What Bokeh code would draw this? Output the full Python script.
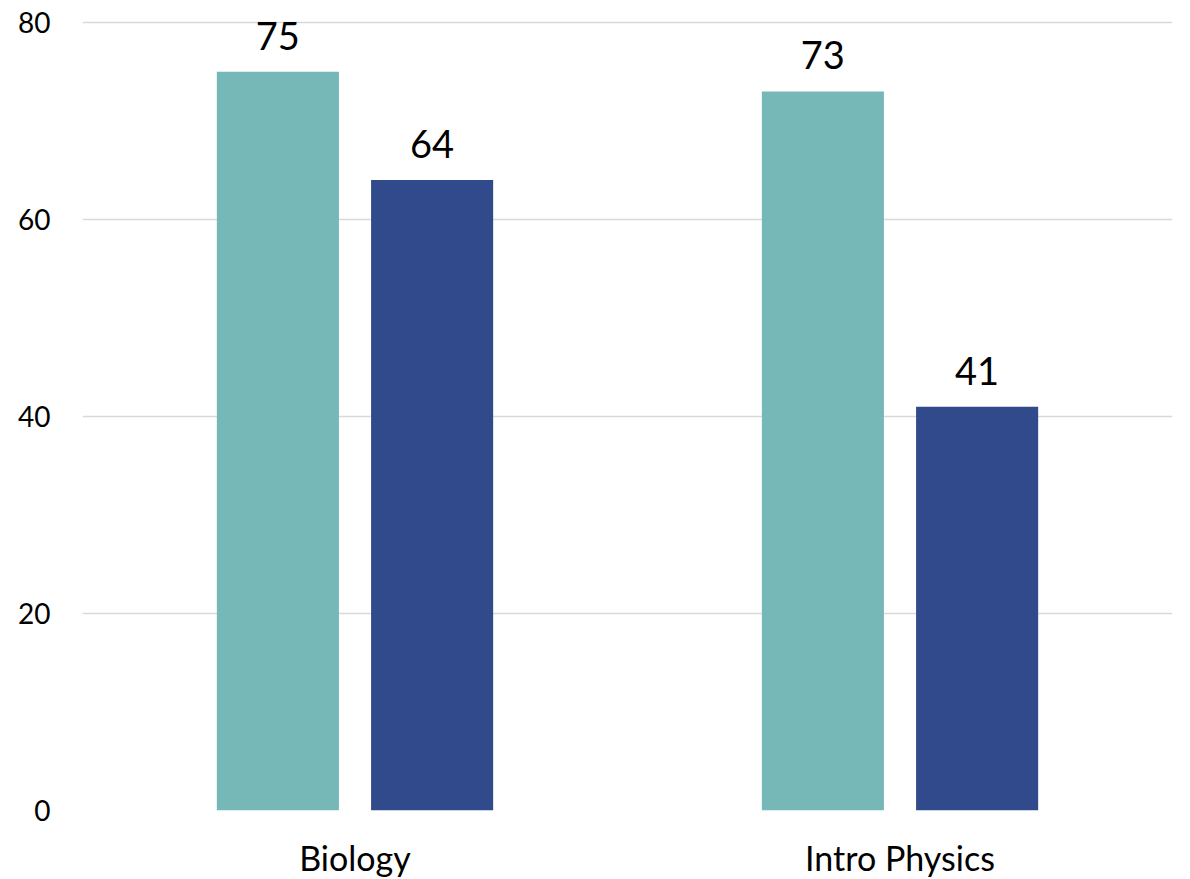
from bokeh.plotting import figure
from bokeh.models import ColumnDataSource, FactorRange, Range1d, LabelSet, FixedTicker
from bokeh.transform import dodge
from bokeh.core.properties import value
from bokeh.embed import file_html
from bokeh.resources import INLINE

categories = ["Biology", "Intro Physics"]
series_a = [75, 73]
series_b = [64, 41]
y_ticks = [0, 20, 40, 60, 80]

FONT = "Lato"
TEAL = "#76B8B7"
NAVY = "#314A8C"

src = ColumnDataSource(dict(
    cat=categories, a=series_a, b=series_b,
    a_txt=[str(v) for v in series_a], b_txt=[str(v) for v in series_b],
))

p = figure(
    frame_width=1090, frame_height=790,
    x_range=FactorRange(factors=categories, range_padding=0),
    y_range=Range1d(0, 80.2),
    output_backend="svg", toolbar_location=None,
    min_border_left=82, min_border_right=8, min_border_top=20, min_border_bottom=55,
)
p.outline_line_color = None
p.background_fill_color = "white"
p.border_fill_color = "white"

p.vbar(x=dodge("cat", -0.1415, range=p.x_range), top="a", width=0.224, source=src,
       fill_color=TEAL, line_color=None)
p.vbar(x=dodge("cat", 0.1415, range=p.x_range), top="b", width=0.224, source=src,
       fill_color=NAVY, line_color=None)

for col, txt, off in (("a", "a_txt", -0.1415), ("b", "b_txt", 0.1415)):
    labels = LabelSet(x=dodge("cat", off, range=p.x_range), y=col, text=txt, source=src,
                      text_align="center", text_baseline="alphabetic", y_offset=22,
                      text_font=value(FONT), text_font_size="38px", text_color="#000000")
    p.add_layout(labels)

p.xgrid.grid_line_color = None
p.ygrid.grid_line_color = "#D9D9D9"
p.ygrid.grid_line_width = 1.5
p.yaxis.ticker = FixedTicker(ticks=y_ticks)

for ax in (p.xaxis, p.yaxis):
    ax.axis_line_color = None
    ax.major_tick_line_color = None
    ax.minor_tick_line_color = None
    ax.major_label_text_font = FONT
    ax.major_label_text_color = "#000000"

p.yaxis.major_label_text_font_size = "28px"
p.yaxis.major_label_standoff = 26
p.xaxis.major_label_text_font_size = "34px"
p.xaxis.major_label_standoff = 20

open("out.html", "w").write(file_html(p, INLINE))
